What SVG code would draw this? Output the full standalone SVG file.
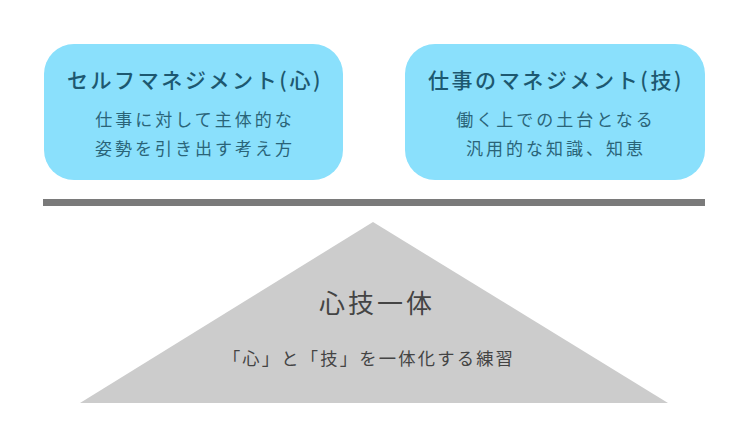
<svg xmlns="http://www.w3.org/2000/svg" width="748" height="443" viewBox="0 0 748 443">
<style>
.box{fill:#8ae0fc}
.t{font-family:"Noto Sans CJK JP","Noto Sans",sans-serif;text-anchor:middle}
.h{font-size:21px;fill:#1d5870;letter-spacing:2.6px;font-weight:500}
.s{font-size:17px;fill:#2a6478;letter-spacing:3px}
.tri{fill:#cccccc}
.th{font-size:26px;fill:#444444;letter-spacing:3px}
.ts{font-size:17.3px;fill:#444444;letter-spacing:2.2px}
</style>
<rect width="748" height="443" fill="#ffffff"/>
<g id="left">
<rect class="box" x="44" y="44" width="299" height="136" rx="30"/>
<text class="t h" x="195" y="88">セルフマネジメント(心)</text>
<text class="t s" x="195" y="126">仕事に対して主体的な</text>
<text class="t s" x="195" y="155">姿勢を引き出す考え方</text>
</g>
<g id="right">
<rect class="box" x="405" y="44" width="300" height="136" rx="30"/>
<text class="t h" x="556" y="88">仕事のマネジメント(技)</text>
<text class="t s" x="556" y="126">働く上での土台となる</text>
<text class="t s" x="556" y="155">汎用的な知識、知恵</text>
</g>
<g id="bar">
<rect x="43" y="199" width="662" height="7" fill="#7a7a7a"/>
</g>
<g id="triangle">
<polygon class="tri" points="373,222 668,403 80,403"/>
<text class="t th" x="377" y="313">心技一体</text>
<text class="t ts" x="369" y="365">「心」と「技」を一体化する練習</text>
</g>
</svg>
